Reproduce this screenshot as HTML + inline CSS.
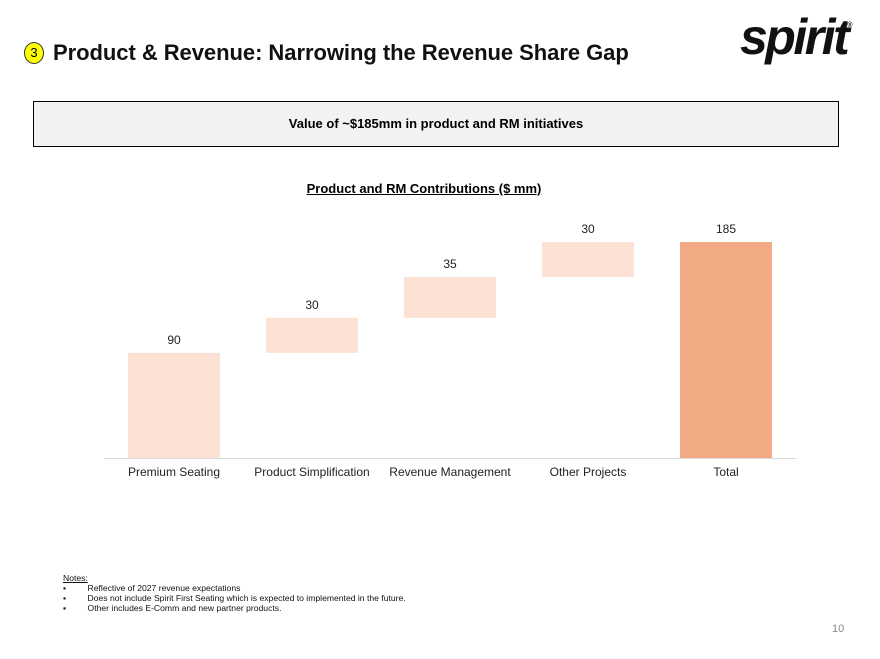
<!DOCTYPE html>
<html><head><meta charset="utf-8"><style>
body{margin:0;width:880px;height:659px;background:#fff;font-family:"Liberation Sans",Arial,sans-serif;position:relative;overflow:hidden}
.a{position:absolute}
</style></head><body>
<div class="a" style="left:24px;top:42px;width:20px;height:22px;border-radius:50%;background:#ffff00;border:1px solid #333;box-sizing:border-box;font-size:13px;text-align:center;line-height:20px">3</div>
<div class="a" style="left:53px;top:40px;font-size:22px;font-weight:bold;color:#111;letter-spacing:-0.05px">Product &amp; Revenue: Narrowing the Revenue Share Gap</div>
<div class="a" style="left:740px;top:8px;font-size:50px;font-weight:bold;font-style:italic;color:#111;letter-spacing:-2.5px">spirit<span style="font-size:7px;vertical-align:top;letter-spacing:0;position:relative;top:14px">®</span></div>
<div class="a" style="left:33px;top:101px;width:806px;height:46px;box-sizing:border-box;border:1px solid #000;background:#f2f2f2;text-align:center;line-height:44px;font-size:13px;font-weight:bold">Value of ~$185mm in product and RM initiatives</div>
<div class="a" style="left:0;width:848px;top:181px;text-align:center;font-size:13px;font-weight:bold;text-decoration:underline">Product and RM Contributions ($ mm)</div>
<svg class="a" style="left:0;top:0" width="880" height="659" id="chart"></svg>
<div class="a" style="left:63px;top:573px;font-size:8.6px;line-height:10px;color:#111">
<div style="text-decoration:underline">Notes:</div>
<div>▪&nbsp;&nbsp;&nbsp;&nbsp;&nbsp;&nbsp;&nbsp;&nbsp;&nbsp;Reflective of 2027 revenue expectations</div>
<div>▪&nbsp;&nbsp;&nbsp;&nbsp;&nbsp;&nbsp;&nbsp;&nbsp;&nbsp;Does not include Spirit First Seating which is expected to implemented in the future.</div>
<div>▪&nbsp;&nbsp;&nbsp;&nbsp;&nbsp;&nbsp;&nbsp;&nbsp;&nbsp;Other includes E-Comm and new partner products.</div>
</div>
<div class="a" style="left:832px;top:623px;font-size:11px;color:#888">10</div>
<script>
const categories=["Premium Seating","Product Simplification","Revenue Management","Other Projects","Total"];
const values=[90,30,35,30,185];
const isTotal=[false,false,false,false,true];
const svg=document.getElementById('chart');
const NS='http://www.w3.org/2000/svg';
const base=458, scale=216/185, x0=128, pitch=138, bw=92;
const y=v=>base-v*scale;
const line=document.createElementNS(NS,'line');
line.setAttribute('x1',104);line.setAttribute('x2',796);line.setAttribute('y1',base+0.5);line.setAttribute('y2',base+0.5);
line.setAttribute('stroke','#d9d9d9');


svg.appendChild(line);
let cum=0;
categories.forEach((c,i)=>{
  let lo,hi;
  if(isTotal[i]){lo=0;hi=values[i];}else{lo=cum;hi=cum+values[i];cum=hi;}
  const r=document.createElementNS(NS,'rect');
  r.setAttribute('x',x0+i*pitch);r.setAttribute('width',bw);
  r.setAttribute('y',y(hi));r.setAttribute('height',y(lo)-y(hi));
  r.setAttribute('fill',isTotal[i]?'#f2aa84':'#fbe2d5');
  
  
  svg.appendChild(r);
  const t=document.createElementNS(NS,'text');
  t.setAttribute('x',x0+i*pitch+bw/2);t.setAttribute('y',y(hi)-9);
  t.setAttribute('text-anchor','middle');t.setAttribute('font-size','12');t.setAttribute('fill','#222');
  t.textContent=values[i];
  
  
  svg.appendChild(t);
  const l=document.createElementNS(NS,'text');
  l.setAttribute('x',x0+i*pitch+bw/2);l.setAttribute('y',base+18);
  l.setAttribute('text-anchor','middle');l.setAttribute('font-size','12');l.setAttribute('fill','#222');
  l.textContent=c;
  
  
  svg.appendChild(l);
});
</script>
</body></html>
